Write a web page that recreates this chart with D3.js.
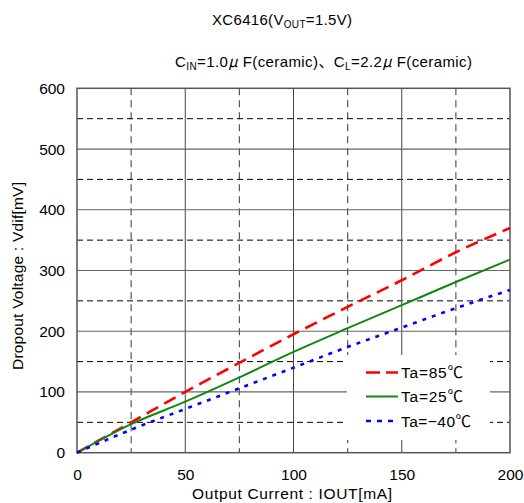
<!DOCTYPE html>
<html><head><meta charset="utf-8">
<script src="https://cdn.jsdelivr.net/npm/d3@7"></script>
<style>
body{margin:0;background:#fff;}
text{font-family:"Liberation Sans","Noto Sans CJK JP",sans-serif;fill:#000;}
</style></head>
<body>
<svg id="c" width="524" height="503"></svg>
<script>
const iout = [0, 25, 50, 75, 100, 125, 150, 175, 200];
const vdif85 = [0, 50, 100, 148, 195, 240, 284, 330, 370];
const vdif25 = [0, 47, 84, 124, 166, 205, 243, 281, 318];
const vdifM40 = [0, 38, 72, 106, 140, 174, 206, 238, 268];
const seriesNames = ["Ta=85℃", "Ta=25℃", "Ta=−40℃"];
const xTicks = [0, 50, 100, 150, 200];
const yTicks = [0, 100, 200, 300, 400, 500, 600];
const xMinor = [25, 75, 125, 175];
const yMinor = [50, 150, 250, 350, 450, 550];

const svg = d3.select("#c");
const x = d3.scaleLinear().domain([0, 200]).range([77, 510]);
const y = d3.scaleLinear().domain([0, 600]).range([452.7, 88.3]);

const g = svg.append("g");
g.selectAll(".vm").data(xMinor).join("line")
  .attr("x1", d => x(d)).attr("x2", d => x(d)).attr("y1", y(600)).attr("y2", y(0))
  .attr("stroke", "#555").attr("stroke-width", 1.2).attr("stroke-dasharray", "7,5");
g.selectAll(".hm").data(yMinor).join("line")
  .attr("x1", x(0)).attr("x2", x(200)).attr("y1", d => y(d)).attr("y2", d => y(d))
  .attr("stroke", "#000").attr("stroke-width", 1).attr("stroke-dasharray", "6,4");
g.selectAll(".vM").data(xTicks.slice(1, -1)).join("line")
  .attr("x1", d => x(d)).attr("x2", d => x(d)).attr("y1", y(600)).attr("y2", y(0))
  .attr("stroke", "#444").attr("stroke-width", 1);
g.selectAll(".hM").data(yTicks.slice(1, -1)).join("line")
  .attr("x1", x(0)).attr("x2", x(200)).attr("y1", d => y(d)).attr("y2", d => y(d))
  .attr("stroke", "#666").attr("stroke-width", 1.2);
g.append("rect").attr("x", x(0)).attr("y", y(600)).attr("width", x(200) - x(0)).attr("height", y(0) - y(600))
  .attr("fill", "none").attr("stroke", "#555").attr("stroke-width", 1.5);

const xAxis = d3.axisBottom(x).tickValues(xTicks).tickSize(0).tickPadding(16);
const yAxis = d3.axisLeft(y).tickValues(yTicks).tickSize(0).tickPadding(12);
const xa = svg.append("g").attr("transform", `translate(0,${y(0)})`).call(xAxis);
const ya = svg.append("g").attr("transform", `translate(${x(0)},0)`).call(yAxis);
[xa, ya].forEach(a => { a.select(".domain").remove(); a.selectAll("text").attr("font-size", 15.5).attr("font-family", "Liberation Sans, sans-serif"); });

const styles = [
  {vals: vdif85, color: "#ff0000", dash: "13,7", w: 2.6},
  {vals: vdif25, color: "#118811", dash: null, w: 2},
  {vals: vdifM40, color: "#0000ff", dash: "4,6", w: 2.6}
];
const line = d3.line().x(d => x(d[0])).y(d => y(d[1])).curve(d3.curveMonotoneX);
styles.forEach(s => {
  svg.append("path").datum(iout.map((v, i) => [v, s.vals[i]]))
    .attr("d", line).attr("fill", "none").attr("stroke", s.color)
    .attr("stroke-width", s.w).attr("stroke-dasharray", s.dash);
});

const lg = svg.append("g");
lg.append("rect").attr("x", 347).attr("y", 355).attr("width", 143).attr("height", 85).attr("fill", "#fff");
const rowsY = [372.5, 396.5, 421];
const legendW = [62, 62, 70];
styles.forEach((s, i) => {
  lg.append("line").attr("x1", 366).attr("x2", 398).attr("y1", rowsY[i]).attr("y2", rowsY[i])
    .attr("stroke", s.color).attr("stroke-width", s.w).attr("stroke-dasharray", s.dash ? (i === 0 ? "14,6" : "5,6") : null);
  lg.append("text").attr("x", 401).attr("y", rowsY[i] + 5.5).attr("font-size", 15.5)
    .attr("textLength", legendW[i]).attr("lengthAdjust", "spacing").text(seriesNames[i]);
});

const t1 = svg.append("text").attr("x", 212).attr("y", 25).attr("font-size", 15)
  .attr("textLength", 140).attr("lengthAdjust", "spacing");
t1.append("tspan").text("XC6416(V");
t1.append("tspan").attr("font-size", 10).attr("dy", 3).text("OUT");
t1.append("tspan").attr("dy", -3).text("=1.5V)");

const t2 = svg.append("text").attr("x", 175).attr("y", 67).attr("font-size", 15)
  .attr("textLength", 297).attr("lengthAdjust", "spacing");
t2.append("tspan").text("C");
t2.append("tspan").attr("font-size", 10).attr("dy", 3).text("IN");
t2.append("tspan").attr("dy", -3).text("=1.0");
t2.append("tspan").attr("font-style", "italic").attr("font-family", "Noto Sans CJK JP").text("μ");
t2.append("tspan").text(" F(ceramic)");
t2.append("tspan").attr("font-family", "Noto Sans CJK JP").text("、");
t2.append("tspan").text("C");
t2.append("tspan").attr("font-size", 10).attr("dy", 3).text("L");
t2.append("tspan").attr("dy", -3).text("=2.2");
t2.append("tspan").attr("font-style", "italic").attr("font-family", "Noto Sans CJK JP").text("μ");
t2.append("tspan").text(" F(ceramic)");

svg.append("text").attr("x", 192).attr("y", 499).attr("font-size", 15.5)
  .attr("textLength", 200).attr("lengthAdjust", "spacing")
  .text("Output Current : IOUT[mA]");
svg.append("text").attr("transform", "translate(23,370) rotate(-90)").attr("font-size", 15.5)
  .attr("textLength", 188).attr("lengthAdjust", "spacing")
  .text("Dropout Voltage : Vdif[mV]");
</script>
</body></html>
